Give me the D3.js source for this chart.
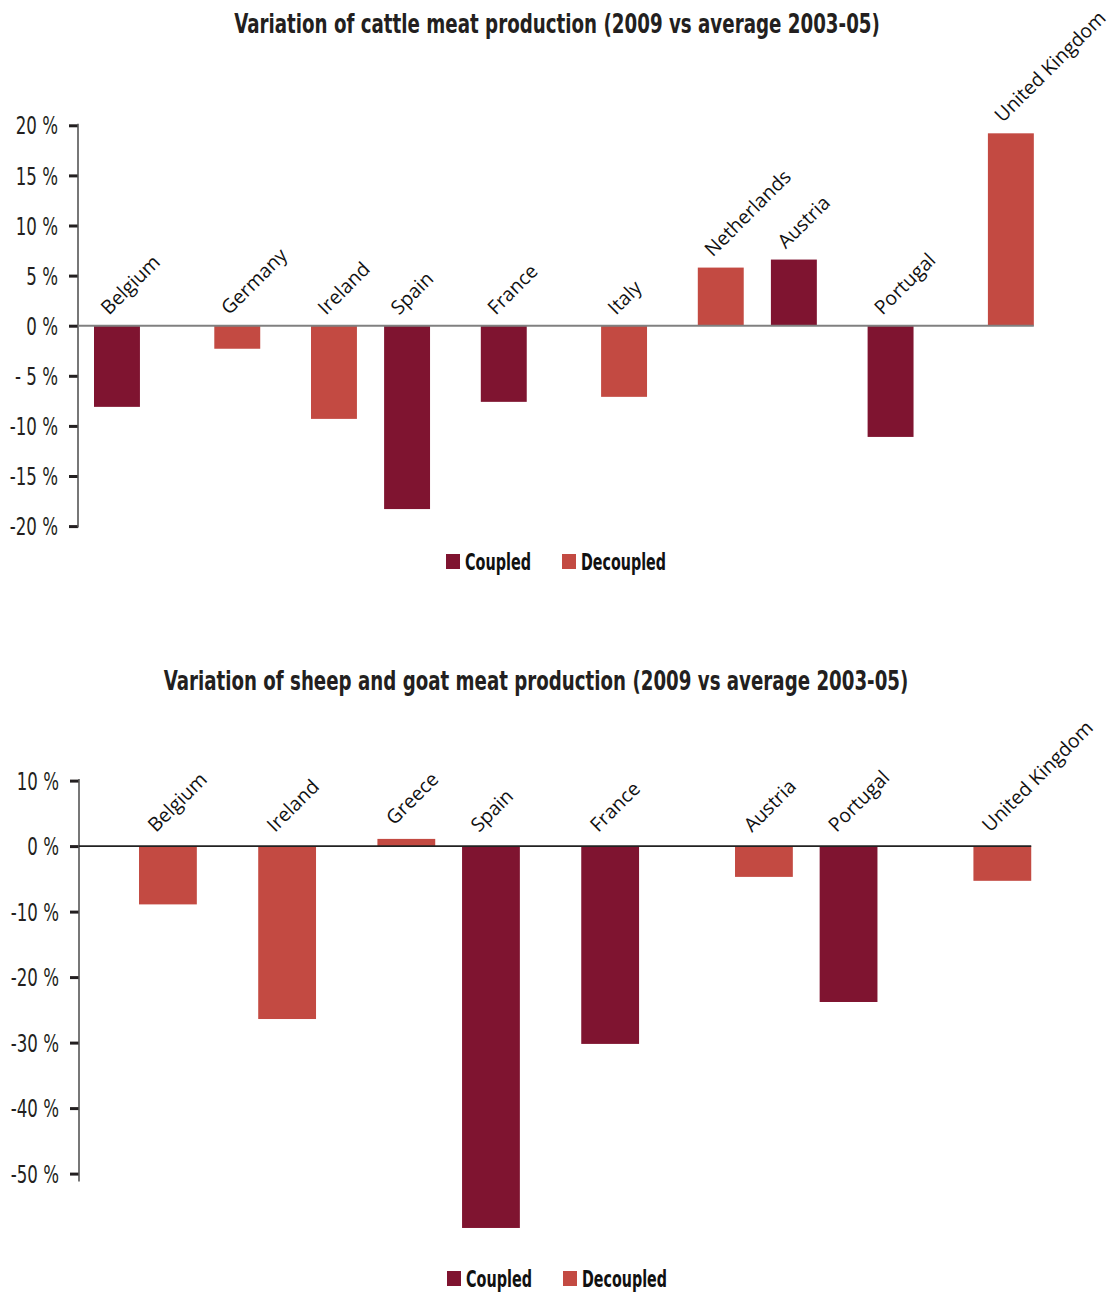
<!DOCTYPE html>
<html>
<head>
<meta charset="utf-8">
<script src="https://cdn.jsdelivr.net/npm/d3@7"></script>
<style>
  html, body { margin: 0; padding: 0; background: #ffffff; }
  svg { display: block; }
</style>
</head>
<body>
<svg id="chart" width="1112" height="1293"></svg>
<script>
// ---------------- DATA ----------------
const seriesNames = ["Coupled", "Decoupled"];

const cattleTitle = "Variation of cattle meat production (2009 vs average 2003-05)";
const cattleCountries = ["Belgium", "Germany", "Ireland", "Spain", "France", "Italy", "Netherlands", "Austria", "Portugal", "United Kingdom"];
const cattleCoupled   = [-8.1, null, null, -18.3, -7.6, null, null, 6.6, -11.1, null];
const cattleDecoupled = [null, -2.3, -9.3, null, null, -7.1, 5.8, null, null, 19.2];
const cattleTicks      = [20, 15, 10, 5, 0, -5, -10, -15, -20];
const cattleTickLabels = ["20 %", "15 %", "10 %", "5 %", "0 %", "- 5 %", "-10 %", "-15 %", "-20 %"];

const sheepTitle = "Variation of sheep and goat meat production (2009 vs average 2003-05)";
const sheepCountries = ["Belgium", "Ireland", "Greece", "Spain", "France", "Austria", "Portugal", "United Kingdom"];
const sheepCoupled   = [null, null, null, -58.3, -30.2, null, -23.8, null];
const sheepDecoupled = [-8.9, -26.4, 1.1, null, null, -4.7, null, -5.3];
const sheepTicks      = [10, 0, -10, -20, -30, -40, -50];
const sheepTickLabels = ["10 %", "0 %", "-10 %", "-20 %", "-30 %", "-40 %", "-50 %"];

// ---------------- STYLE ----------------
const colors = { "Coupled": "#7f1430", "Decoupled": "#c34a42" };
const condensed = "'Liberation Sans Narrow', 'DejaVu Sans Condensed', sans-serif";
const labelFont = "'Open Sans', 'Noto Sans', sans-serif";
const svg = d3.select("#chart");

function compress(sel, factor) {
  sel.each(function () {
    const w = this.getComputedTextLength();
    d3.select(this).attr("textLength", w * factor).attr("lengthAdjust", "spacingAndGlyphs");
  });
}

// text squeezed horizontally to a target width via a transform
function squeezedText(parent, x, y, str, size, targetW, anchor) {
  const t = parent.append("text")
    .attr("font-family", condensed).attr("font-weight", "bold")
    .attr("font-size", size).attr("fill", "#231f20")
    .attr("text-anchor", anchor)
    .text(str);
  const w = t.node().getComputedTextLength();
  const s = Math.min(1, targetW / w);
  t.attr("transform", `translate(${x},${y}) scale(${s},1)`);
  return t;
}

function drawChart(cfg) {
  const g = svg.append("g");

  // title
  squeezedText(g, cfg.titleX, cfg.titleY, cfg.title, 27, cfg.titleW, "middle");

  const y = d3.scaleLinear().domain(cfg.yDomain).range(cfg.yRange);
  const x = d3.scaleBand().domain(cfg.countries).range(cfg.xRange).padding(0);
  const step = x.step();
  const xs = d3.scalePoint().domain(seriesNames).range([cfg.subStart * step, cfg.subEnd * step]);
  const barW = cfg.barFrac * step;

  // rows
  const rows = [];
  cfg.countries.forEach((c, i) => {
    if (cfg.coupled[i] != null) rows.push({ country: c, series: "Coupled", value: cfg.coupled[i] });
    if (cfg.decoupled[i] != null) rows.push({ country: c, series: "Decoupled", value: cfg.decoupled[i] });
  });
  const cx = d => x(d.country) + xs(d.series);

  // y axis
  const axis = d3.axisLeft(y).tickValues(cfg.ticks)
    .tickFormat((d, i) => cfg.tickLabels[i]).tickSize(9).tickPadding(11);
  const ag = g.append("g").attr("transform", `translate(${cfg.xRange[0]},0)`).call(axis);
  ag.select(".domain").remove();
  ag.selectAll(".tick line").attr("stroke", "#231f20").attr("stroke-width", 3);
  const tt = ag.selectAll(".tick text")
    .attr("font-family", condensed).attr("font-size", 24).attr("fill", "#231f20")
    .attr("dy", "0.36em");
  compress(tt, 0.77);
  const yTop = y(cfg.ticks[0]);
  const yBot = y(cfg.ticks[cfg.ticks.length - 1]) + cfg.axisExtra;
  g.append("line")
    .attr("x1", cfg.xRange[0]).attr("x2", cfg.xRange[0])
    .attr("y1", yTop - 1.5).attr("y2", yBot)
    .attr("stroke", "#555555").attr("stroke-width", 1.6);

  // bars
  g.selectAll("rect.bar").data(rows).enter().append("rect")
    .attr("class", "bar")
    .attr("x", d => cx(d) - barW / 2)
    .attr("width", barW)
    .attr("y", d => Math.min(y(0), y(d.value)))
    .attr("height", d => Math.abs(y(d.value) - y(0)))
    .attr("fill", d => colors[d.series]);

  // zero line
  const lastRow = rows[rows.length - 1];
  g.append("line")
    .attr("x1", cfg.xRange[0]).attr("x2", cx(lastRow) + barW / 2)
    .attr("y1", y(0)).attr("y2", y(0))
    .attr("stroke", cfg.zeroColor).attr("stroke-width", cfg.zeroWidth);

  // category labels
  g.selectAll("text.cat").data(rows).enter().append("text")
    .attr("class", "cat")
    .attr("transform", d => `translate(${cx(d) + cfg.labelDx},${y(Math.max(0, d.value)) - cfg.labelDy}) rotate(-45)`)
    .attr("font-family", labelFont).attr("font-size", 19.5).attr("fill", "#111")
    .text(d => d.country);

  // legend
  const lg = g.append("g");
  seriesNames.forEach((s, i) => {
    const lx = cfg.legendX[i];
    lg.append("rect").attr("x", lx).attr("y", cfg.legendY - 8).attr("width", 14).attr("height", 15)
      .attr("fill", colors[s]);
    squeezedText(lg, lx + 19, cfg.legendY + 8, s, 23, cfg.legendW[i], "start").attr("fill", "#111");
  });
}

drawChart({
  title: cattleTitle, titleX: 557, titleY: 33, titleW: 646,
  countries: cattleCountries, coupled: cattleCoupled, decoupled: cattleDecoupled,
  ticks: cattleTicks, tickLabels: cattleTickLabels,
  yDomain: [-20, 20], yRange: [526.1, 125.3],
  xRange: [78, 78 + 967], subStart: 0.403, subEnd: 0.647, barFrac: 0.475,
  axisExtra: 1.5, zeroColor: "#808080", zeroWidth: 2,
  labelDx: -8, labelDy: 10,
  legendX: [446, 562], legendY: 562, legendW: [66, 85]
});

drawChart({
  title: sheepTitle, titleX: 536, titleY: 690, titleW: 745,
  countries: sheepCountries, coupled: sheepCoupled, decoupled: sheepDecoupled,
  ticks: sheepTicks, tickLabels: sheepTickLabels,
  yDomain: [-50, 10], yRange: [1173.6, 780.6],
  xRange: [79, 79 + 953.6], subStart: 0.456, subEnd: 0.746, barFrac: 0.485,
  axisExtra: 8, zeroColor: "#222222", zeroWidth: 1.6,
  labelDx: -12, labelDy: 13,
  legendX: [447, 563], legendY: 1279, legendW: [66, 85]
});
</script>
</body>
</html>
